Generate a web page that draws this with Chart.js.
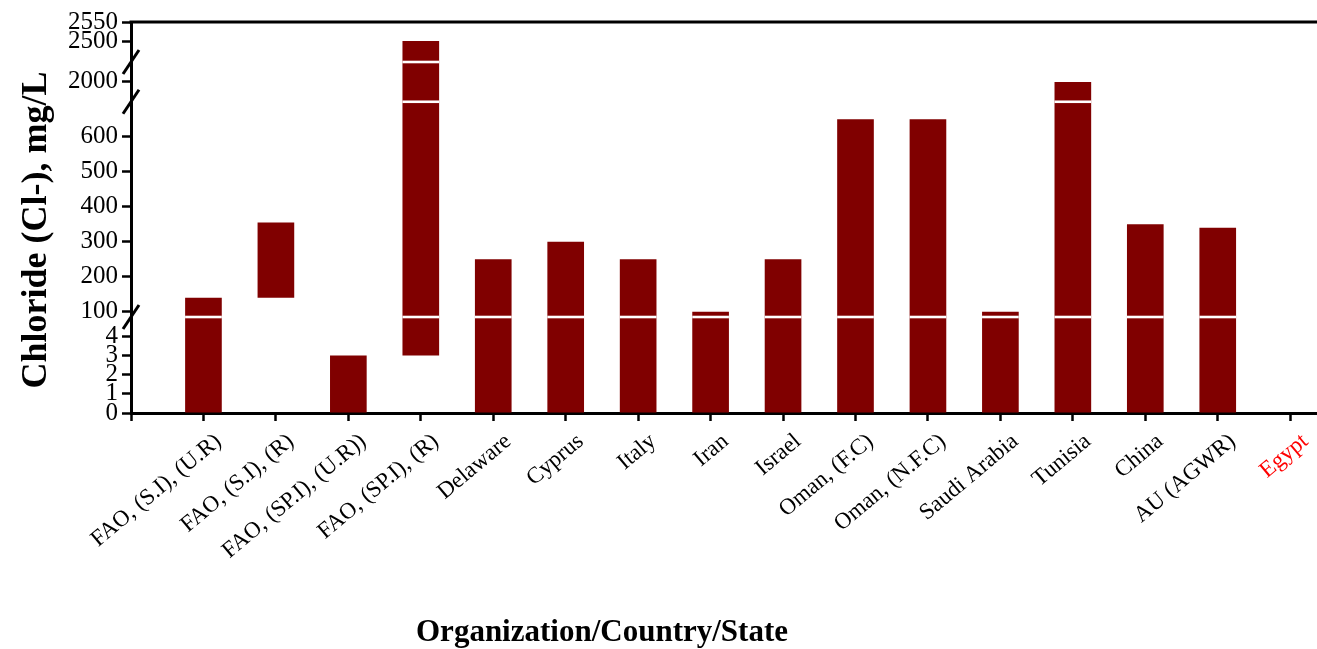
<!DOCTYPE html>
<html>
<head>
<meta charset="utf-8">
<title>Chloride (Cl-) limits</title>
<script src="https://cdn.jsdelivr.net/npm/chart.js@4.4.1/dist/chart.umd.min.js"></script>
<style>
  html, body { margin: 0; padding: 0; background: #fff; overflow: hidden; }
  #wrap { position: relative; width: 1317px; height: 649px; }
</style>
</head>
<body>
<div id="wrap"><canvas id="clChart"></canvas></div>
<script>
const categories = [
  "FAO, (S.I), (U.R)", "FAO, (S.I), (R)", "FAO, (SP.I), (U.R))", "FAO, (SP.I), (R)",
  "Delaware", "Cyprus", "Italy", "Iran", "Israel", "Oman, (F.C)", "Oman, (N.F.C)",
  "Saudi Arabia", "Tunisia", "China", "AU (AGWR)", "Egypt"
];
// bottom and top of each bar (most start at 0, two are floating ranges)
const lowValues  = [0, 140, 0, 3, 0, 0, 0, 0, 0, 0, 0, 0, 0, 0, 0, null];
const highValues = [140, 355, 3, 2500, 250, 300, 250, 100, 250, 650, 650, 100, 2000, 350, 340, null];
const yTickValues = [0, 1, 2, 3, 4, 100, 200, 300, 400, 500, 600, 2000, 2500, 2550];
const highlightCategory = "Egypt";
const yTitle = "Chloride (Cl-), mg/L";
const xTitle = "Organization/Country/State";

const FONT = "'Times New Roman', 'Liberation Serif', serif";
Chart.defaults.font.family = FONT;
Chart.defaults.color = "#000";

// broken y axis: each value range gets its own share of the axis height
const Y_SEGMENTS = [
  { from: 0,    to: 5,    start: 0,      end: 0.2455 },
  { from: 85,   to: 700,  start: 0.2455, end: 0.796 },
  { from: 1950, to: 2050, start: 0.796,  end: 0.8977 },
  { from: 2445, to: 2550, start: 0.8977, end: 1 }
];

class BrokenScale extends Chart.LinearScale {
  static id = "broken";
  buildTicks() {
    return yTickValues.map(v => ({ value: v }));
  }
  getPixelForValue(value) {
    if (value === null || value === undefined || isNaN(value)) return NaN;
    let dec = 0;
    for (const s of Y_SEGMENTS) {
      if (value <= s.from) { dec = s.start; break; }
      if (value <= s.to) {
        dec = s.start + (value - s.from) / (s.to - s.from) * (s.end - s.start);
        break;
      }
      dec = s.end;
    }
    return this.getPixelForDecimal(dec);
  }
  getValueForPixel(pixel) {
    const dec = this.getDecimalForPixel(pixel);
    for (const s of Y_SEGMENTS) {
      if (dec <= s.end) return s.from + (dec - s.start) / (s.end - s.start) * (s.to - s.from);
    }
    return Y_SEGMENTS[Y_SEGMENTS.length - 1].to;
  }
}
Chart.register(BrokenScale);

const breakPlugin = {
  id: "breaks",
  afterDatasetsDraw(chart) {
    const ctx = chart.ctx;
    const y = chart.scales.y;
    const meta = chart.getDatasetMeta(0);
    const cuts = Y_SEGMENTS.slice(0, -1).map(s => y.getPixelForDecimal(s.end));
    ctx.save();
    ctx.fillStyle = "#fff";
    meta.data.forEach(bar => {
      const p = bar.getProps(["x", "y", "base", "width"], true);
      if (isNaN(p.y)) return;
      const top = Math.min(p.y, p.base), bottom = Math.max(p.y, p.base);
      cuts.forEach(py => {
        if (py > top + 2 && py < bottom - 2) ctx.fillRect(p.x - p.width / 2, py - 1.3, p.width, 2.6);
      });
    });
    ctx.restore();
  },
  afterDraw(chart) {
    const ctx = chart.ctx;
    const area = chart.chartArea;
    const y = chart.scales.y;
    ctx.save();
    ctx.strokeStyle = "#000";
    ctx.lineWidth = 3;
    // top frame line
    ctx.beginPath();
    ctx.moveTo(area.left - 1.5, area.top);
    ctx.lineTo(area.right, area.top);
    ctx.stroke();
    // break marks on the y axis
    Y_SEGMENTS.slice(0, -1).forEach(s => {
      const py = y.getPixelForDecimal(s.end);
      ctx.beginPath();
      ctx.moveTo(area.left - 8, py + 12);
      ctx.lineTo(area.left + 8, py - 12);
      ctx.stroke();
    });
    // axis titles
    ctx.fillStyle = "#000";
    ctx.textAlign = "center";
    ctx.textBaseline = "middle";
    ctx.font = "bold 31px " + FONT;
    ctx.fillText(xTitle, 602, 633);
    ctx.translate(37, 230);
    ctx.rotate(-Math.PI / 2);
    ctx.font = "bold 36px " + FONT;
    ctx.fillText(yTitle, 0, 0);
    ctx.restore();
  }
};

const chart = new Chart(document.getElementById("clChart"), {
  type: "bar",
  data: {
    datasets: [{
      data: categories.map((c, i) => ({
        x: i + 1,
        y: lowValues[i] === null ? null : [lowValues[i], highValues[i]]
      })),
      backgroundColor: "#800000",
      borderWidth: 0,
      barPercentage: 1,
      categoryPercentage: 0.506
    }]
  },
  options: {
    responsive: true,
    maintainAspectRatio: false,
    animation: false,
    layout: { padding: { top: 22, right: 0, bottom: 0, left: 0 } },
    plugins: {
      legend: { display: false },
      tooltip: { enabled: false }
    },
    scales: {
      x: {
        type: "linear",
        min: 0,
        max: 16.37,
        offset: false,
        afterBuildTicks: s => {
          s.ticks = [0, ...categories.map((c, i) => i + 1)].map(v => ({ value: v }));
        },
        afterFit: s => { s.height = 236; },
        grid: { drawOnChartArea: false, drawTicks: true, tickLength: 8, tickWidth: 2.5, tickColor: "#000", offset: false },
        border: { display: true, color: "#000", width: 3 },
        ticks: {
          autoSkip: false,
          minRotation: 40,
          maxRotation: 40,
          padding: 7,
          labelOffset: 15,
          font: { size: 23 },
          color: c => categories[c.tick.value - 1] === highlightCategory ? "#ff0000" : "#000",
          callback: v => (v === 0 ? "" : categories[v - 1])
        }
      },
      y: {
        type: "broken",
        min: 0,
        max: 2550,
        afterFit: s => { s.width = 131; },
        grid: { drawOnChartArea: false, drawTicks: true, tickLength: 9, tickWidth: 2.5, tickColor: "#000" },
        border: { display: true, color: "#000", width: 3 },
        ticks: {
          autoSkip: false,
          padding: 4,
          font: { size: 25 },
          callback: v => String(v)
        }
      }
    }
  },
  plugins: [breakPlugin]
});
</script>
</body>
</html>
